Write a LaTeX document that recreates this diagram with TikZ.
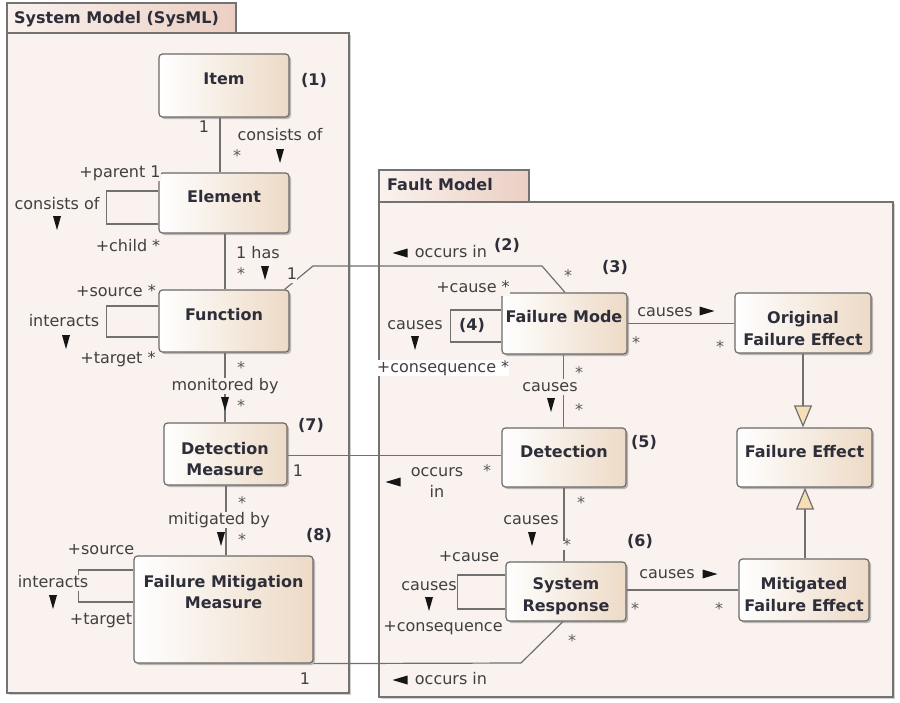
\documentclass[tikz,border=0pt]{standalone}
\usepackage{fontspec}
\setmainfont{DejaVu Sans}
\usetikzlibrary{arrows.meta,shadows}

\definecolor{framefill}{HTML}{F9F2EF}
\definecolor{framec}{HTML}{737373}
\definecolor{tableft}{HTML}{FAF2EE}
\definecolor{tabright}{HTML}{EBCFC3}
\definecolor{boxtan}{HTML}{EDDAC6}
\definecolor{boxline}{HTML}{6A6A6A}
\definecolor{linec}{HTML}{707070}
\definecolor{titlec}{HTML}{2E2E3A}
\definecolor{lblc}{HTML}{404040}
\definecolor{starc}{HTML}{5A5A5A}
\definecolor{genfill}{HTML}{F7DEB4}
\definecolor{markc}{HTML}{151515}

\tikzset{
  frame/.style={draw=framec, line width=1.2pt, fill=framefill, inner sep=0pt,
    drop shadow={shadow xshift=2pt, shadow yshift=-2pt, fill=black, opacity=0.18}},
  tab/.style={draw=framec, line width=1.2pt, left color=tableft, right color=tabright, inner sep=0pt},
  box/.style={draw=boxline, line width=1.2pt, rounded corners=3.5pt, left color=white,
    right color=boxtan, inner sep=0pt,
    drop shadow={shadow xshift=2pt, shadow yshift=-2pt, fill=black, opacity=0.25}},
  title/.style={font=\fontsize{16}{21.5}\selectfont\bfseries, text=titlec, align=center, inner sep=0pt},
  lbl/.style={font=\fontsize{16}{20}\selectfont, text=lblc, fill=framefill, inner sep=0pt,
    text height=12pt, text depth=3.5pt},
  star/.style={font=\fontsize{16}{20}\selectfont, text=starc, fill=framefill, inner sep=0pt,
    text height=9pt, text depth=0pt, yshift=-4.5pt},
  conn/.style={draw=linec, line width=1.2pt},
  gen/.style={conn, -{Triangle[width=18pt,length=22pt,fill=genfill]}},
  dirmark/.style={fill=markc},
}

% direction markers of the association names
\newcommand{\dirdown}[1]{\fill[dirmark] (#1) ++(-4,-7) -- ++(8,0) -- ++(-4,14) -- cycle;}
\newcommand{\dirright}[1]{\fill[dirmark] (#1) ++(-7.5,-4.5) -- ++(0,9) -- ++(15,-4.5) -- cycle;}
\newcommand{\dirleft}[1]{\fill[dirmark] (#1) ++(7.5,-4.5) -- ++(0,9) -- ++(-15,-4.5) -- cycle;}

\begin{document}
\begin{tikzpicture}[x=1pt,y=-1pt]
\useasboundingbox[fill=white] (0,0) rectangle (900,702);

% ---------- packages ----------
\node[frame, minimum width=342pt, minimum height=660pt] (sysframe) at (178,363) {};
\node[tab, minimum width=229pt, minimum height=30pt] (systab) at (121.5,18) {};
\node[title, anchor=west] (systitle) at (14,19) {System Model (SysML)};

\node[frame, minimum width=514pt, minimum height=495pt] (faultframe) at (636,449.5) {};
\node[tab, minimum width=150pt, minimum height=32pt] (faulttab) at (454,186) {};
\node[title, anchor=west] (faulttitle) at (387,185) {Fault Model};

% ---------- blocks ----------
\node[box, minimum width=130pt, minimum height=63pt] (item) at (224,85.5) {};
\node[box, minimum width=130pt, minimum height=60pt] (element) at (224,203) {};
\node[box, minimum width=130pt, minimum height=62pt] (function) at (224,321) {};
\node[box, minimum width=123pt, minimum height=62pt] (detmeasure) at (225.5,454) {};
\node[box, minimum width=179pt, minimum height=107pt] (fmm) at (223.5,609.5) {};

\node[box, minimum width=125pt, minimum height=61pt] (failmode) at (564.5,323.5) {};
\node[box, minimum width=136pt, minimum height=60pt] (origfe) at (803,323) {};
\node[box, minimum width=124pt, minimum height=59pt] (detection) at (564,457.5) {};
\node[box, minimum width=135pt, minimum height=59pt] (faileffect) at (804.5,457.5) {};
\node[box, minimum width=120pt, minimum height=59pt] (sysresp) at (566,591.5) {};
\node[box, minimum width=130pt, minimum height=62pt] (mitfe) at (804,590) {};

\node[title] (itemT) at (224,79) {Item};
\node[title] (elementT) at (224,197) {Element};
\node[title] (functionT) at (224,315) {Function};
\node[title] (detmeasureT) at (225,459) {Detection\\Measure};
\node[title] (fmmT) at (223.5,592) {Failure Mitigation\\Measure};
\node[title] (failmodeT) at (564,317) {Failure Mode};
\node[title] (origfeT) at (803,328.5) {Original\\Failure Effect};
\node[title] (detectionT) at (564,452) {Detection};
\node[title] (faileffectT) at (804.5,452) {Failure Effect};
\node[title] (sysrespT) at (566,596) {System\\Response};
\node[title] (mitfeT) at (804,594.5) {Mitigated\\Failure Effect};

% ---------- connectors ----------
\coordinate (occA) at (313,266);
\coordinate (occB) at (542,266);
\coordinate (occC) at (521,663);

\draw[conn] ([xshift=-4pt]item.south) -- ([xshift=-4pt]element.north);
\draw[conn] ([yshift=12pt]element.west) -- ++(-52,0) -- ++(0,33) -- ([yshift=-21pt]element.west);
\draw[conn] ([xshift=1pt]element.south) -- ([xshift=1pt]function.north);
\draw[conn] ([yshift=15pt]function.west) -- ++(-52,0) -- ++(0,31) -- ([yshift=-16pt]function.west);
\draw[conn] ([xshift=-5pt]function.north east) -- (occA) -- (occB) -- ([xshift=0.5pt]failmode.north);
\draw[conn] ([xshift=1pt]function.south) -- ([xshift=1pt]function.south |- detmeasure.north);
\draw[conn] ([xshift=0.5pt]detmeasure.south) -- ([xshift=0.5pt]detmeasure.south |- fmm.north);
\draw[conn] ([yshift=39.5pt]fmm.west) -- ++(-55,0) -- ++(0,32) -- ([yshift=7.5pt]fmm.west);
\draw[conn] ([yshift=-1.5pt]detmeasure.east) -- ([yshift=-1.5pt]detmeasure.east -| detection.west);
\draw[conn] ([xshift=-3pt]sysresp.south) -- (occC) -- (fmm.south east);

\draw[conn] ([yshift=13.5pt]failmode.west) -- ++(-51,0) -- ++(0,32) -- ([yshift=-18.5pt]failmode.west);
\draw[conn] (failmode.east) -- (failmode.east -| origfe.west);
\draw[conn] ([xshift=-1pt]failmode.south) -- ([xshift=-1pt]failmode.south |- detection.north);
\draw[conn] (detection.south) -- (detection.south |- sysresp.north);
\draw[conn] ([yshift=16.5pt]sysresp.west) -- ++(-48,0) -- ++(0,34) -- ([yshift=-17.5pt]sysresp.west);
\draw[conn] ([yshift=1.5pt]sysresp.east) -- ([yshift=1.5pt]sysresp.east -| mitfe.west);
\draw[gen] (origfe.south) -- (origfe.south |- faileffect.north);
\draw[gen] ([xshift=1pt]mitfe.north) -- ([xshift=1pt]mitfe.north |- faileffect.south);

% ---------- labels, system model ----------
\node[lbl] (l01) at (204,128) {1};
\node[lbl] (l02) at (280,136) {consists of};
\node[star] (l03) at (237,152) {*};
\dirdown{280,156}
\node[lbl] (l04) at (120,173) {+parent 1};
\node[lbl] (l05) at (57,205) {consists of};
\dirdown{57,223}
\node[lbl] (l06) at (128,247) {+child *};
\node[lbl] (l07) at (258,254) {1 has};
\node[star] (l08) at (241,270) {*};
\dirdown{265,273}
\node[lbl] (l09) at (292,275) {1};
\node[lbl] (l10) at (116,292) {+source *};
\node[lbl] (l11) at (64,322) {interacts};
\dirdown{66,342}
\node[lbl] (l12) at (118,359) {+target *};
\node[star] (l13) at (241,364) {*};
\node[lbl] (l14) at (225,386) {monitored by};
\dirdown{225,404}
\node[star] (l15) at (241,402) {*};
\node[title] (n7) at (311,425) {(7)};
\node[lbl] (l16) at (298,472) {1};
\node[star] (l17) at (242,499) {*};
\node[lbl] (l18) at (219,520) {mitigated by};
\dirdown{221,539}
\node[star] (l19) at (242,536) {*};
\node[title] (n8) at (319,535) {(8)};
\node[lbl] (l20) at (101,550) {+source};
\node[lbl] (l21) at (53,583) {interacts};
\dirdown{53,602}
\node[lbl] (l22) at (101,620) {+target};
\node[lbl] (l23) at (305,680) {1};
\node[title] (n1) at (314,80) {(1)};

% ---------- labels, fault model ----------
\dirleft{400,253}
\node[lbl] (l24) at (451,253) {occurs in};
\node[title] (n2) at (507,245) {(2)};
\node[star] (l25) at (568,272) {*};
\node[title] (n3) at (615,267) {(3)};
\node[lbl] (l26) at (473,288) {+cause *};
\node[lbl] (l27) at (415,325) {causes};
\node[title] (n4) at (472,325) {(4)};
\dirdown{415,343}
\node[lbl, fill=white] (l28) at (443,368) {+consequence *};
\node[lbl] (l29) at (665,312) {causes};
\dirright{707,311}
\node[star] (l30) at (636,339) {*};
\node[star] (l31) at (720,343) {*};
\node[star] (l32) at (579,369) {*};
\node[lbl] (l33) at (550,387) {causes};
\dirdown{551,405}
\node[star] (l34) at (579,406) {*};
\node[title] (n5) at (644,442) {(5)};
\node[star] (l35) at (487,467) {*};
\dirleft{393,482}
\node[lbl] (l36) at (437,472) {occurs};
\node[lbl] (l37) at (437,493) {in};
\node[star] (l38) at (581,499) {*};
\node[lbl] (l39) at (531,520) {causes};
\dirdown{532,539}
\node[star] (l40) at (567,541) {*};
\node[title] (n6) at (640,541) {(6)};
\node[lbl] (l41) at (469,557) {+cause};
\node[lbl] (l42) at (429,586) {causes};
\dirdown{429,604}
\node[lbl] (l43) at (443,627) {+consequence};
\node[lbl] (l44) at (667,574) {causes};
\dirright{710,574}
\node[star] (l45) at (635,605) {*};
\node[star] (l46) at (719,605) {*};
\node[star] (l47) at (572,637) {*};
\dirleft{400,680}
\node[lbl] (l48) at (451,680) {occurs in};
\end{tikzpicture}
\end{document}
